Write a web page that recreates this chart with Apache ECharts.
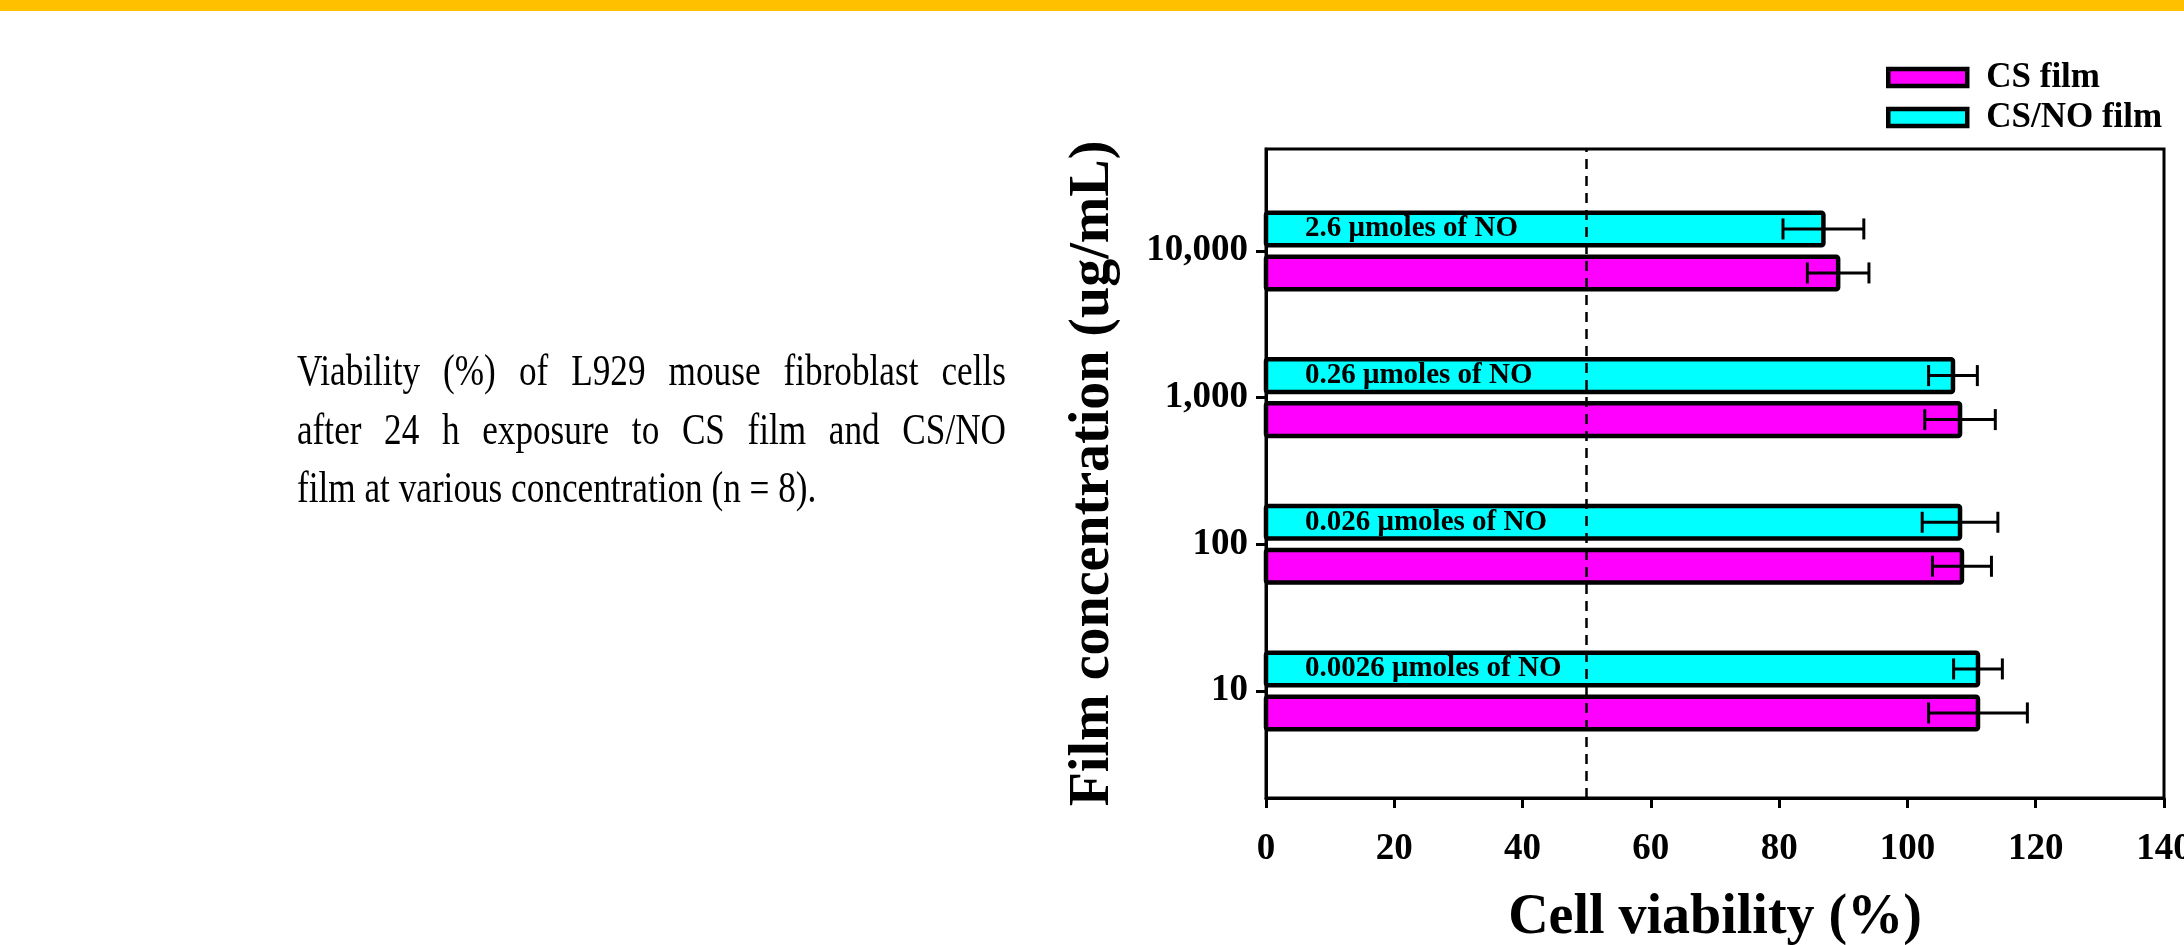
<!DOCTYPE html>
<html><head><meta charset="utf-8">
<script src="https://cdn.jsdelivr.net/npm/echarts@6/dist/echarts.min.js"></script>
<style>html,body{margin:0;padding:0;background:#fff}#c{width:2184px;height:945px}</style>
</head><body><div id="c"></div>
<script>
// ---- data ----
const concentrations = ['10', '100', '1,000', '10,000'];
const csFilm = [111.0, 108.5, 108.2, 89.2];
const csFilmErr = [7.7, 4.6, 5.5, 4.8];
const csNoFilm = [111.0, 108.2, 107.1, 86.9];
const csNoFilmErr = [3.8, 5.9, 3.8, 6.3];
const noAmounts = ['0.0026 \u03bcmoles of NO', '0.026 \u03bcmoles of NO', '0.26 \u03bcmoles of NO', '2.6 \u03bcmoles of NO'];
const seriesNames = ['CS film', 'CS/NO film'];
const thresholdValue = 50;
const xMin = 0, xMax = 140, xStep = 20;
const captionLines = [
  'Viability (%) of L929 mouse fibroblast cells',
  'after 24 h exposure to CS film and CS/NO',
  'film at various concentration (n = 8).'
];

// ---- style ----
const FONT = '"Liberation Serif", "Times New Roman", serif';
const BAR_H = 0.222, BAR_OFF = 0.15;

function makeRender(offset, labels) {
  return function (params, api) {
    const v = api.value(0), idx = api.value(1), err = api.value(2);
    const unit = api.size([0, 1])[1];
    const h = BAR_H * unit;
    const yc = api.coord([0, idx + offset])[1];
    const x0 = api.coord([0, idx])[0];
    const x1 = api.coord([v, idx])[0];
    const xl = api.coord([v - err, idx])[0];
    const xr = api.coord([v + err, idx])[0];
    const cap = 10.5;
    const ls = {stroke: '#000', lineWidth: 3};
    const children = [
      {type: 'rect', shape: {x: x0, y: yc - h / 2, width: x1 - x0, height: h, r: 2},
       style: {fill: api.visual('color'), stroke: '#000', lineWidth: 4.5}},
      {type: 'line', shape: {x1: xl, y1: yc, x2: xr, y2: yc}, style: ls},
      {type: 'line', shape: {x1: xl, y1: yc - cap, x2: xl, y2: yc + cap}, style: ls},
      {type: 'line', shape: {x1: xr, y1: yc - cap, x2: xr, y2: yc + cap}, style: ls}
    ];
    if (labels) {
      children.push({type: 'text', style: {text: labels[idx], x: x0 + 39, y: yc,
        verticalAlign: 'middle', align: 'left', font: 'bold 29px ' + FONT, fill: '#000'}});
    }
    return {type: 'group', children};
  };
}

// caption (justified lines, slightly condensed type)
const cv = document.createElement('canvas').getContext('2d');
const capFont = '44px ' + FONT;
const capScale = 0.8;
cv.font = capFont;
const capLeft = 297, capWidth = 709, capY = [373, 432, 490];
const graphics = [{type: 'rect', shape: {x: 0, y: 0, width: 2184, height: 11}, style: {fill: '#FFC000'}}];
captionLines.forEach((line, li) => {
  const words = line.split(' ');
  const justify = li < captionLines.length - 1;
  const ww = words.map(w => cv.measureText(w).width * capScale);
  const total = ww.reduce((a, b) => a + b, 0);
  const gap = justify ? (capWidth - total) / (words.length - 1) : cv.measureText(' ').width * capScale;
  let x = capLeft;
  words.forEach((w, i) => {
    graphics.push({type: 'text', x: x, y: capY[li], scaleX: capScale,
      style: {text: w, font: capFont, fill: '#000', verticalAlign: 'middle'}});
    x += ww[i] + gap;
  });
});

const chart = echarts.init(document.getElementById('c'));
chart.setOption({
  backgroundColor: '#fff',
  animation: false,
  graphic: graphics,
  legend: {
    orient: 'vertical', left: 1881, top: 55,
    itemWidth: 79, itemHeight: 17, itemGap: 5, icon: 'rect',
    data: seriesNames,
    itemStyle: {borderColor: '#000', borderWidth: 4.5},
    textStyle: {fontFamily: FONT, fontWeight: 'bold', fontSize: 35, lineHeight: 34, color: '#000', padding: [0, 0, 0, 14]}
  },
  grid: {left: 1266, top: 149, width: 898, height: 649, show: true, borderColor: '#000', borderWidth: 3,
    containLabel: false, outerBoundsMode: 'none'},
  xAxis: {
    type: 'value', min: xMin, max: xMax, interval: xStep,
    axisLine: {onZero: false, lineStyle: {color: '#000', width: 3}},
    axisTick: {show: true, length: 10, lineStyle: {color: '#000', width: 3}},
    axisLabel: {margin: 33, fontFamily: FONT, fontWeight: 'bold', fontSize: 37, color: '#000'},
    splitLine: {show: false},
    name: 'Cell viability (%)', nameLocation: 'middle', nameGap: 93,
    nameTextStyle: {fontFamily: FONT, fontWeight: 'bold', fontSize: 56, color: '#000'}
  },
  yAxis: {
    type: 'value', min: -0.73, max: 3.695,
    axisLine: {onZero: false, lineStyle: {color: '#000', width: 3}},
    axisTick: {show: true, length: 10, customValues: [0, 1, 2, 3], lineStyle: {color: '#000', width: 3}},
    axisLabel: {margin: 18, customValues: [0, 1, 2, 3], formatter: v => concentrations[Math.round(v)],
      fontFamily: FONT, fontWeight: 'bold', fontSize: 37, color: '#000'},
    splitLine: {show: false},
    name: 'Film concentration (ug/mL)', nameLocation: 'middle', nameGap: 144, nameRotate: 90,
    nameTextStyle: {fontFamily: FONT, fontWeight: 'bold', fontSize: 56, color: '#000'}
  },
  series: [
    {
      name: seriesNames[0], type: 'custom', itemStyle: {color: '#FF00FF'},
      renderItem: makeRender(-BAR_OFF, null),
      encode: {x: 0, y: 1},
      data: csFilm.map((v, i) => [v, i, csFilmErr[i]]),
      z: 2
    },
    {
      name: seriesNames[1], type: 'custom', itemStyle: {color: '#00FFFF'},
      renderItem: makeRender(BAR_OFF, noAmounts),
      encode: {x: 0, y: 1},
      data: csNoFilm.map((v, i) => [v, i, csNoFilmErr[i]]),
      z: 2,
      markLine: {
        silent: true, symbol: 'none', label: {show: false},
        lineStyle: {type: [10, 7], color: '#000', width: 2.5},
        data: [{xAxis: thresholdValue}]
      }
    }
  ]
});
</script></body></html>
